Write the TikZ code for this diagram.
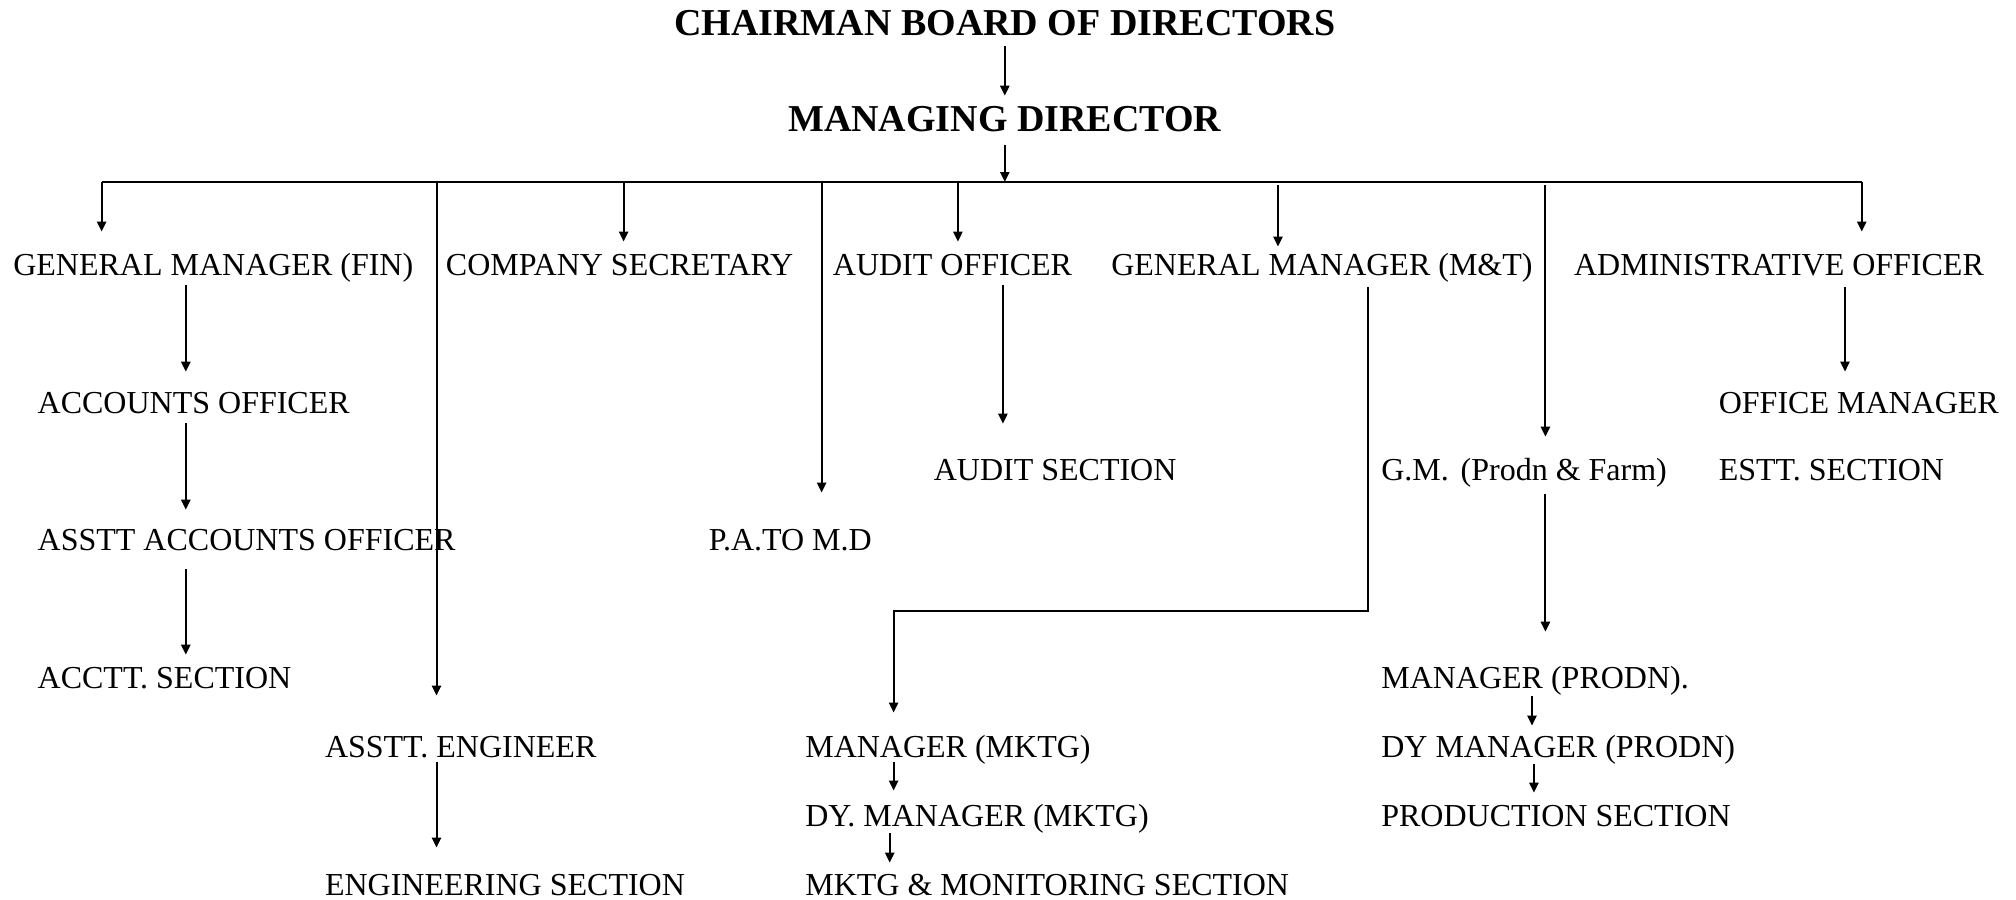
\documentclass[tikz,border=0pt]{standalone}
\usepackage{fontspec}
\setmainfont{Liberation Serif}
\usetikzlibrary{arrows.meta,calc}
\tikzset{
  lbl/.style={anchor=base west, inner sep=0pt, font=\fontsize{16pt}{18pt}\selectfont, text height=11pt, text depth=3.5pt},
  head/.style={anchor=base, inner sep=0pt, font=\bfseries\fontsize{19pt}{22pt}\selectfont, text height=13pt, text depth=4pt},
  ln/.style={line width=1pt, draw=black},
  arr/.style={ln, -{Triangle[length=5pt,width=4.6pt]}}
}
\begin{document}
\begin{tikzpicture}[x=0.5pt,y=-0.5pt]
\useasboundingbox (0,0) rectangle (2016,899);
% headers
\node[head] (chair) at (1004.8,35.5) {CHAIRMAN BOARD OF DIRECTORS};
\node[head] (md) at (1004.8,132) {MANAGING DIRECTOR};
% row 1
\node[lbl] (gmfin) at (12.9,275) {GENERAL MANAGER (FIN)};
\node[lbl] (compsec) at (445.5,275) {COMPANY SECRETARY};
\node[lbl] (auditoff) at (832.5,275) {AUDIT OFFICER};
\node[lbl] (gmmt) at (1110.9,275) {GENERAL MANAGER (M\&T)};
\node[lbl] (admin) at (1573.7,275) {ADMINISTRATIVE OFFICER};
% lower rows
\node[lbl] (acco) at (37.3,413) {ACCOUNTS OFFICER};
\node[lbl] (officemgr) at (1718.4,413) {OFFICE MANAGER};
\node[lbl] (auditsec) at (933.4,480) {AUDIT SECTION};
\node[lbl] (gmprodn) at (1380.9,480) {G.M.\hspace{0.37em}(Prodn \& Farm)};
\node[lbl] (estt) at (1718.4,480) {ESTT. SECTION};
\node[lbl] (asstacc) at (37.3,550) {ASSTT ACCOUNTS OFFICER};
\node[lbl] (pa) at (708.4,550) {P.A.TO M.D};
\node[lbl] (acctt) at (37.3,688) {ACCTT. SECTION};
\node[lbl] (mgrprodn) at (1380.9,688) {MANAGER (PRODN).};
\node[lbl] (assteng) at (324.6,757) {ASSTT. ENGINEER};
\node[lbl] (mgrmktg) at (804.9,757) {MANAGER (MKTG)};
\node[lbl] (dyprodn) at (1380.9,757) {DY MANAGER (PRODN)};
\node[lbl] (dymktg) at (804.9,826) {DY. MANAGER (MKTG)};
\node[lbl] (prodsec) at (1380.9,826) {PRODUCTION SECTION};
\node[lbl] (engsec) at (324.6,895) {ENGINEERING SECTION};
\node[lbl] (mktgsec) at (804.9,895) {MKTG \& MONITORING SECTION};
% bus coordinates
\coordinate (cA) at (101.6,182);
\coordinate (cB) at (436.5,182);
\coordinate (cC) at (623.6,182);
\coordinate (cD) at (821.6,182);
\coordinate (cE) at (957.9,182);
\coordinate (cM) at (1004.8,182);
\coordinate (cF) at (1278,182);
\coordinate (cG) at (1545.4,182);
\coordinate (cH) at (1861.7,182);
\coordinate (x1) at (185.8,0);
\coordinate (x2) at (1002.9,0);
\coordinate (x3) at (1845,0);
\coordinate (cK) at (1368,610.7);
\coordinate (cL) at (893.6,610.7);
\coordinate (x4) at (889.7,0);
\coordinate (x5) at (1532,0);
\coordinate (x6) at (1533.9,0);
% top arrows
\draw[arr] ($(cM |- chair.south)+(0,2.5)$) -- ($(cM |- md.north)+(0,-10)$);
\draw[arr] ($(cM |- md.south)+(0,5)$) -- (cM);
\draw[ln] (cA) -- (cH);
% bus drops
\draw[arr] (cA) -- ($(cA |- gmfin.north)+(0,-21)$);
\draw[arr] (cB) -- ($(cB |- assteng.north)+(0,-39)$);
\draw[arr] (cC) -- ($(cC |- compsec.north)+(0,-11)$);
\draw[arr] (cD) -- ($(cD |- pa.north)+(0,-35)$);
\draw[arr] (cE) -- ($(cE |- auditoff.north)+(0,-11)$);
\draw[arr] ($(cF)+(0,3)$) -- ($(cF |- gmmt.north)+(0,-6)$);
\draw[arr] ($(cG)+(0,3)$) -- ($(cG |- gmprodn.north)+(0,-21)$);
\draw[arr] (cH) -- ($(cH |- admin.north)+(0,-21)$);
% finance chain
\draw[arr] ($(x1 |- gmfin.south)+(0,3)$) -- ($(x1 |- acco.north)+(0,-19)$);
\draw[arr] ($(x1 |- acco.south)+(0,3)$) -- ($(x1 |- asstacc.north)+(0,-18)$);
\draw[arr] ($(x1 |- asstacc.south)+(0,12)$) -- ($(x1 |- acctt.north)+(0,-11)$);
% engineering
\draw[arr] ($(cB |- assteng.south)+(0,-2)$) -- ($(cB |- engsec.north)+(0,-25)$);
% audit
\draw[arr] ($(x2 |- auditoff.south)+(0,3)$) -- ($(x2 |- auditsec.north)+(0,-34)$);
% admin
\draw[arr] ($(x3 |- admin.south)+(0,5)$) -- ($(x3 |- officemgr.north)+(0,-19)$);
% marketing
\draw[arr] ($(cK |- gmmt.south)+(0,5)$) -- (cK) -- (cL) -- ($(cL |- mgrmktg.north)+(0,-22)$);
\draw[arr] ($(cL |- mgrmktg.south)+(0,-2)$) -- ($(cL |- dymktg.north)+(0,-13)$);
\draw[arr] ($(x4 |- dymktg.south)+(0,0)$) -- ($(x4 |- mktgsec.north)+(0,-10)$);
% production
\draw[arr] ($(cG |- gmprodn.south)+(0,7)$) -- ($(cG |- mgrprodn.north)+(0,-34)$);
\draw[arr] ($(x5 |- mgrprodn.south)+(0,1)$) -- ($(x5 |- dyprodn.north)+(0,-9)$);
\draw[arr] ($(x6 |- dyprodn.south)+(0,0)$) -- ($(x6 |- prodsec.north)+(0,-11)$);
\end{tikzpicture}
\end{document}
